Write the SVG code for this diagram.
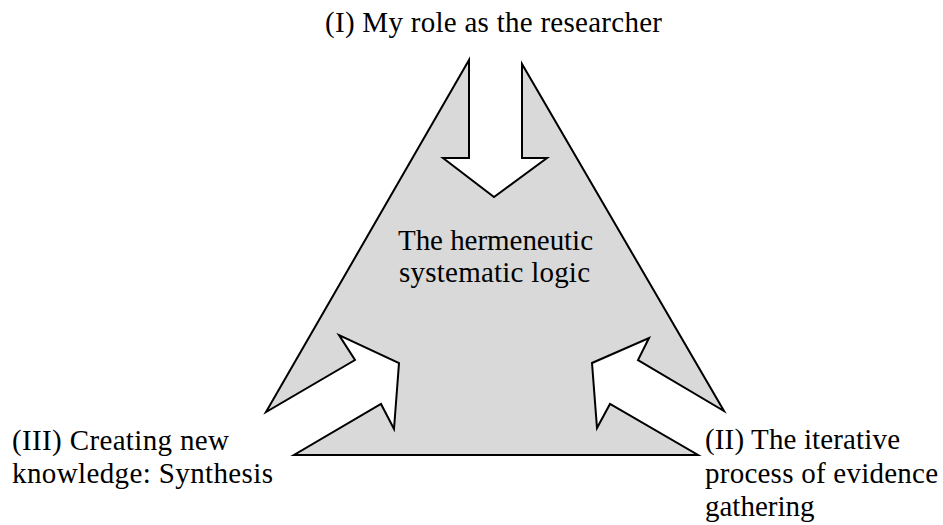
<svg xmlns="http://www.w3.org/2000/svg" width="943" height="525" viewBox="0 0 943 525">
  <style>
    .shape { fill: #d9d9d9; stroke: #000; stroke-width: 2; stroke-linejoin: miter; }
    .label { font-family: "Liberation Serif", "Times New Roman", serif; font-size: 29px; fill: #000; }
  </style>
  <rect width="943" height="525" fill="#fff"/>

  <!-- Triangle with three inward-pointing arrows cut out of it -->
  <g id="triangle">
    <polygon class="shape" points="469,60 469,158 443,158 494,197 547,158 522,158 522,64 724,411 638,360 649,338 592,363 597,428 610,404 698,455 294,455 381,404 394,429 399,363 339,335 355,360 266,412"/>
    <text class="label" x="398" y="250" textLength="195" lengthAdjust="spacing">The hermeneutic</text>
    <text class="label" x="399" y="282" textLength="191" lengthAdjust="spacing">systematic logic</text>
  </g>

  <g id="role">
    <text class="label" x="325" y="32" textLength="337" lengthAdjust="spacing">(I) My role as the researcher</text>
  </g>

  <g id="evidence">
    <text class="label" x="705" y="449" textLength="195" lengthAdjust="spacing">(II) The iterative</text>
    <text class="label" x="705" y="483" textLength="233" lengthAdjust="spacing">process of evidence</text>
    <text class="label" x="705" y="516">gathering</text>
  </g>

  <g id="synthesis">
    <text class="label" x="12" y="450" textLength="217" lengthAdjust="spacing">(III) Creating new</text>
    <text class="label" x="12" y="483" textLength="261" lengthAdjust="spacing">knowledge: Synthesis</text>
  </g>
</svg>
